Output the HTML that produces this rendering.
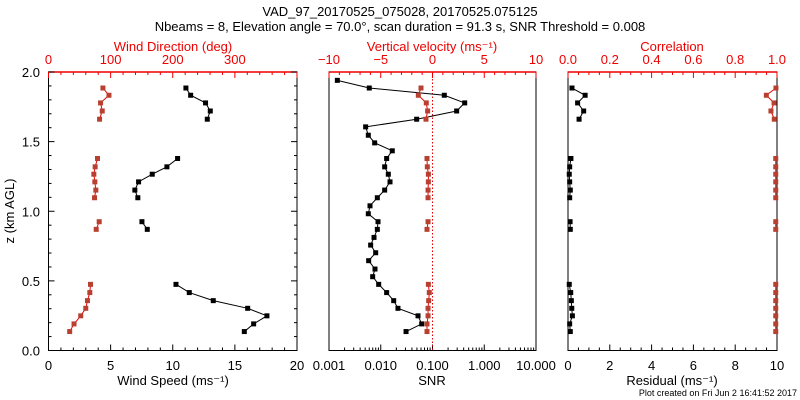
<!DOCTYPE html>
<html><head><meta charset="utf-8">
<style>
html,body{margin:0;padding:0;background:#fff;}
svg{display:block;font-family:"Liberation Sans",sans-serif;}
</style></head>
<body>
<svg id="c" width="800" height="400" viewBox="0 0 800 400">
<text x="400" y="16" text-anchor="middle" font-size="13">VAD_97_20170525_075028, 20170525.075125</text>
<text x="400" y="31" text-anchor="middle" font-size="13">Nbeams = 8, Elevation angle = 70.0°, scan duration = 91.3 s, SNR Threshold = 0.008</text>
<text x="797" y="396" text-anchor="end" font-size="9">Plot created on Fri Jun  2 16:41:52 2017</text>
</svg>
<script>
// ---- data ----
const windHeights = [1.885,1.833,1.778,1.720,1.661,1.379,1.319,1.266,1.211,1.152,1.097,0.925,0.870,0.475,0.416,0.358,0.303,0.249,0.191,0.136];
const windSpeed = [11.06,11.44,12.64,13.02,12.78,10.39,9.53,8.35,7.25,6.95,7.19,7.52,7.95,10.26,11.33,13.26,16.03,17.58,16.51,15.76];
const windDir = [87.6,97.3,83.8,86.5,82.2,78.9,75.1,73.0,74.6,76.2,74.1,81.6,76.8,67.6,66.5,62.7,60.0,51.9,41.1,34.1];
const vertVel = [-1.11,-1.37,-0.60,-0.47,-0.63,-0.53,-0.50,-0.40,-0.40,-0.43,-0.43,-0.43,-0.53,-0.40,-0.31,-0.37,-0.43,-0.43,-0.53,-0.53];
const residual = [0.19,0.82,0.46,0.75,0.53,0.14,0.08,0.06,0.08,0.11,0.08,0.10,0.11,0.06,0.13,0.16,0.18,0.21,0.08,0.11];
const correlation = [0.995,0.949,0.986,0.971,0.987,0.994,0.994,0.994,0.994,0.994,0.994,0.994,0.994,0.994,0.994,0.994,0.994,0.994,0.994,0.994];
const snrHeights = [1.940,1.885,1.833,1.778,1.720,1.661,1.606,1.546,1.491,1.434,1.379,1.319,1.266,1.211,1.152,1.097,1.039,0.982,0.925,0.870,0.812,0.757,0.702,0.645,0.585,0.530,0.475,0.416,0.358,0.303,0.249,0.191,0.136];
const snrValues = [0.00145,0.0060,0.169,0.419,0.293,0.0494,0.00511,0.00575,0.00763,0.0167,0.0130,0.0119,0.0140,0.0151,0.0119,0.00859,0.0062,0.00575,0.00885,0.00859,0.00741,0.00638,0.00798,0.00584,0.00774,0.00698,0.00912,0.0130,0.0178,0.0215,0.0525,0.0618,0.0308];
const zTicks = ["0.0","0.5","1.0","1.5","2.0"];
const speedTicks = ["0","5","10","15","20"];
const dirTicks = ["0","100","200","300"];
const snrTicks = ["0.001","0.010","0.100","1.000","10.000"];
const wTicks = ["−10","−5","0","5","10"];
const residTicks = ["0","2","4","6","8","10"];
const corrTicks = ["0.0","0.2","0.4","0.6","0.8","1.0"];

const NS="http://www.w3.org/2000/svg";
const svg=document.getElementById('c');
const Y0=350.5, Y1=72;
const yZ=z=>Y0-(z/2)*(Y0-Y1);
function el(t,a,p){const e=document.createElementNS(NS,t);for(const k in a)e.setAttribute(k,a[k]);(p||svg).appendChild(e);return e;}
function txt(x,y,s,fill,size,name){const t=el('text',{x:x,y:y,'text-anchor':'middle','font-size':size||13,fill:fill||'#000'});t.textContent=s;


return t;}
function line(x1,y1,x2,y2,col,w,dash){return el('line',{x1:x1,y1:y1,x2:x2,y2:y2,stroke:col,'stroke-width':w||1,'stroke-dasharray':dash||'none'});}

const P1={l:48.5,r:297}, P2={l:329,r:536}, P3={l:568,r:777};
const xSpeed=v=>P1.l+v/20*(P1.r-P1.l);
const xDir=v=>P1.l+v/400*(P1.r-P1.l);
const xSnr=v=>P2.l+(Math.log10(v)+3)/4*(P2.r-P2.l);
const xW=v=>P2.l+(v+10)/20*(P2.r-P2.l);
const xRes=v=>P3.l+v/10*(P3.r-P3.l);
const xCor=v=>P3.l+v*(P3.r-P3.l);

function frame(P,name){
  const r=el('rect',{x:P.l,y:Y1,width:P.r-P.l,height:Y0-Y1,fill:'none',stroke:'#000','stroke-width':1});
  
  
  line(P.l,Y1,P.r,Y1,'#e00',1.5);
}
frame(P1,'panel-wind-frame');frame(P2,'panel-snr-frame');frame(P3,'panel-residual-frame');

// panel1 y ticks
for(let i=0;i<=20;i++){const y=yZ(i/10);const L=i%5==0?6:3;line(P1.l,y,P1.l+L,y,'#000');line(P1.r,y,P1.r-L,y,'#000');}
zTicks.forEach((s,i)=>{const t=txt(40,yZ(i*0.5)+5,s,'#000',13,'y-tick-label');t.setAttribute('text-anchor','end');});
const yt=txt(14,211,'z (km AGL)','#000',13,'y-axis-title');yt.setAttribute('transform','rotate(-90 14 211)');

// panel1 bottom speed
for(let v=0;v<=20;v++){const x=xSpeed(v);line(x,Y0,x,Y0-(v%5==0?6:3),'#000');}
speedTicks.forEach(s=>txt(xSpeed(+s),370,s,'#000',13,'speed-tick-label'));
txt(173,385,'Wind Speed (ms⁻¹)','#000',13,'x-axis-title-speed');
for(let v=0;v<=400;v+=20){const x=xDir(v);line(x,Y1,x,Y1+(v%100==0?6:3),'#e00');}
dirTicks.forEach(s=>txt(xDir(+s),64,s,'#e00',13,'direction-tick-label'));
txt(173,51,'Wind Direction (deg)','#e00',13,'x-axis-title-direction');

// panel2
for(let d=-3;d<1;d++){for(let m=1;m<10;m++){const x=xSnr(m*Math.pow(10,d));line(x,Y0,x,Y0-(m==1?6:3),'#000');}}
line(P2.r,Y0,P2.r,Y0-6,'#000');
snrTicks.forEach(s=>txt(xSnr(+s),370,s,'#000',13,'snr-tick-label'));
txt(432,385,'SNR','#000',13,'x-axis-title-snr');
for(let v=-10;v<=10;v++){const x=xW(v);line(x,Y1,x,Y1+(v%5==0?6:3),'#e00');}
wTicks.forEach(s=>txt(xW(+s.replace('−','-')),64,s,'#e00',13,'w-tick-label'));
txt(432,51,'Vertical velocity (ms⁻¹)','#e00',13,'x-axis-title-w');
const ref=line(xSnr(0.1),Y1,xSnr(0.1),Y0,'#e00',1,'1.5,2');



// panel3
for(let v=0;v<=10;v+=0.5){const x=xRes(v);line(x,Y0,x,Y0-(Math.abs(v%2)<1e-6?6:3),'#000');}
residTicks.forEach(s=>txt(xRes(+s),370,s,'#000',13,'residual-tick-label'));
txt(672,385,'Residual (ms⁻¹)','#000',13,'x-axis-title-residual');
for(let i=0;i<=20;i++){const x=xCor(i/20);line(x,Y1,x,Y1+(i%4==0?6:3),'#e00');}
corrTicks.forEach(s=>txt(xCor(+s),64,s,'#e00',13,'correlation-tick-label'));
txt(672,51,'Correlation','#e00',13,'x-axis-title-correlation');

// series: draw in contiguous groups (break gaps > 0.1 km)
function series(xs,hs,xf,lineCol,markCol,name){
  const g=el('g',{});
  
  
  let seg=[];
  const flush=()=>{if(seg.length>1){el('polyline',{points:seg.map(p=>p.join(',')).join(' '),fill:'none',stroke:lineCol,'stroke-width':1},g);}seg=[];};
  for(let i=0;i<xs.length;i++){
    if(i>0&&Math.abs(hs[i-1]-hs[i])>0.1)flush();
    seg.push([xf(xs[i]),yZ(hs[i])]);
  }
  flush();
  for(let i=0;i<xs.length;i++){
    const m=el('rect',{x:xf(xs[i])-2.5,y:yZ(hs[i])-2.5,width:5,height:5,fill:markCol},g);
    
    
  }
}
series(windSpeed,windHeights,xSpeed,'#000','#000','wind-speed-series');
series(windDir,windHeights,xDir,'#e00','#b84030','wind-direction-series');
series(snrValues,snrHeights,xSnr,'#000','#000','snr-series');
series(vertVel,windHeights,xW,'#e00','#b84030','vertical-velocity-series');
series(residual,windHeights,xRes,'#000','#000','residual-series');
series(correlation,windHeights,xCor,'#e00','#b84030','correlation-series');
</script>
</body></html>
